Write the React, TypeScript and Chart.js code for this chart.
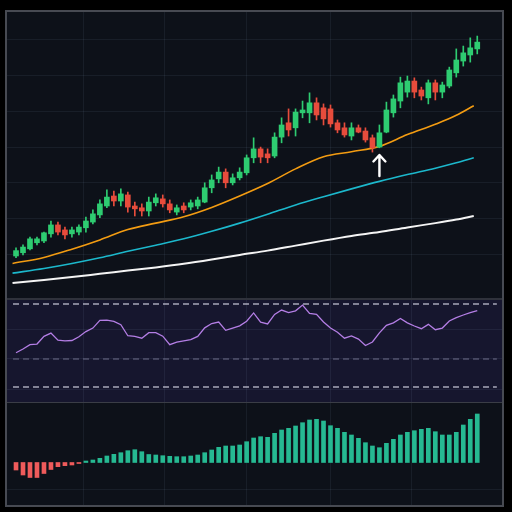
import React, { useEffect, useRef } from "react";
import { Chart, registerables } from "chart.js";

Chart.register(...registerables);

// ---------------- data ----------------
const OPEN = [
  119.5, 120.4, 121.5, 123.2, 123.7, 125.7, 128.2, 126.8, 125.7, 126.2,
  127.4, 129.0, 131.0, 133.5, 136.3, 134.9, 136.6, 133.5, 133.0, 132.1,
  134.4, 135.5, 134.1, 131.8, 133.5, 133.2, 133.5, 134.6, 138.6, 141.1,
  143.0, 140.0, 141.4, 142.8, 147.0, 149.5, 148.1, 147.5, 152.8, 156.8,
  155.4, 159.6, 159.6, 162.4, 161.0, 160.7, 156.8, 155.4, 153.1, 155.4,
  154.5, 152.6, 150.0, 154.2, 159.6, 162.9, 165.4, 168.5, 166.0, 163.8,
  168.0, 165.4, 167.1, 170.8, 174.1, 175.8, 177.5,
];
const HIGH = [
  121.8, 122.6, 124.8, 124.8, 126.2, 129.3, 129.0, 127.6, 127.6, 128.2,
  130.4, 132.4, 135.2, 138.0, 137.7, 138.3, 137.4, 134.6, 134.1, 136.0,
  136.9, 136.6, 135.2, 133.8, 134.4, 135.2, 136.0, 140.0, 142.2, 144.4,
  143.9, 142.5, 144.2, 147.8, 152.6, 150.0, 149.5, 154.0, 158.2, 160.7,
  160.7, 162.9, 165.2, 163.8, 162.1, 161.8, 157.6, 156.8, 156.8, 156.2,
  155.4, 153.4, 156.2, 162.6, 164.6, 169.6, 169.9, 169.4, 166.8, 168.8,
  168.8, 168.2, 172.4, 177.5, 178.3, 180.6, 181.1,
];
const LOW = [
  119.0, 119.8, 121.2, 122.6, 123.2, 124.8, 125.4, 124.3, 124.8, 125.4,
  126.2, 128.5, 130.2, 133.0, 133.5, 133.5, 131.8, 130.7, 130.7, 130.7,
  133.5, 133.2, 131.6, 131.0, 131.6, 132.4, 132.7, 134.4, 137.2, 140.0,
  138.6, 139.4, 140.8, 142.2, 145.6, 145.6, 145.6, 147.0, 151.2, 153.1,
  153.1, 158.2, 156.8, 157.6, 156.2, 155.6, 154.0, 152.8, 152.0, 154.0,
  151.4, 148.6, 149.8, 154.0, 158.4, 161.0, 164.0, 163.8, 163.2, 162.1,
  163.2, 163.8, 166.6, 169.6, 172.7, 173.8, 176.1,
];
const CLOSE = [
  121.0, 122.0, 124.3, 124.3, 126.0, 128.2, 126.2, 125.4, 126.8, 127.6,
  129.3, 131.3, 134.1, 136.0, 134.9, 136.9, 133.2, 132.7, 132.1, 134.6,
  135.8, 134.1, 132.4, 133.0, 132.4, 134.4, 135.2, 138.6, 140.8, 143.0,
  140.0, 141.4, 143.0, 147.0, 149.5, 147.2, 147.0, 152.8, 156.2, 154.8,
  159.8, 160.4, 162.4, 159.0, 157.9, 156.5, 154.8, 153.4, 155.4, 154.2,
  152.0, 149.8, 154.0, 160.4, 163.5, 168.0, 168.5, 165.4, 164.3, 168.0,
  165.4, 167.4, 171.6, 174.4, 176.4, 177.8, 179.4,
];

// moving averages, sampled along the candle index axis
const MA_INDEX = [-0.5, 4, 8, 12, 16, 20, 24, 28, 32, 36, 40, 44, 48, 52, 56, 60, 63, 65.5];
const MA_FAST = [117.4, 119.1, 121.4, 124.0, 126.9, 128.7, 130.5, 133.1, 136.3, 139.8, 143.9, 147.3, 148.7, 150.2, 153.5, 156.4, 158.9, 161.6];
const MA_MID = [114.7, 116.0, 117.4, 119.0, 120.8, 122.5, 124.3, 126.4, 128.7, 131.2, 133.8, 136.1, 138.3, 140.4, 142.3, 144.1, 145.6, 147.0];
const MA_SLOW = [111.9, 112.8, 113.6, 114.5, 115.4, 116.3, 117.3, 118.5, 119.8, 121.0, 122.4, 123.8, 125.1, 126.2, 127.5, 128.7, 129.7, 130.7];

const RSI = [
  46.5, 48.3, 50.4, 50.7, 54.4, 56.0, 52.6, 52.2, 52.4, 54.2,
  56.7, 58.4, 62.1, 62.2, 61.6, 60.0, 54.7, 54.4, 53.5, 56.2,
  56.2, 54.5, 50.4, 51.6, 52.2, 52.8, 54.4, 58.5, 60.6, 61.3,
  57.3, 58.4, 59.5, 61.7, 65.7, 61.3, 60.4, 65.0, 67.1, 65.9,
  66.7, 69.5, 65.5, 65.0, 61.3, 58.4, 56.4, 53.5, 54.6, 53.1,
  50.0, 51.7, 56.1, 59.7, 60.9, 63.0, 60.9, 59.4, 58.1, 60.2,
  57.6, 58.4, 61.8, 63.4, 64.7, 65.8, 66.8,
];
const RSI_UPPER = 70;
const RSI_MID = 43.5;
const RSI_LOWER = 30;

const MACD_HIST = [
  -0.75, -1.25, -1.5, -1.5, -1.1, -0.7, -0.42, -0.32, -0.25, -0.1,
  0.15, 0.25, 0.42, 0.65, 0.82, 0.98, 1.18, 1.28, 1.08, 0.8,
  0.75, 0.68, 0.62, 0.58, 0.58, 0.65, 0.75, 0.98, 1.25, 1.52,
  1.65, 1.65, 1.75, 2.08, 2.45, 2.58, 2.52, 2.92, 3.25, 3.42,
  3.65, 3.98, 4.25, 4.32, 4.15, 3.68, 3.42, 3.02, 2.75, 2.42,
  1.98, 1.65, 1.48, 1.92, 2.32, 2.75, 3.02, 3.18, 3.32, 3.42,
  3.08, 2.75, 2.75, 3.02, 3.75, 4.32, 4.85,
];

// buy signal marker (candle index, arrow tip / tail price)
const SIGNAL_INDEX = 52;
const SIGNAL_TIP = 147.8;
const SIGNAL_TAIL = 141.9;

// grid positions
const GRID_X = [9.59, 21.18, 33.05, 44.93, 56.52];
const PRICE_TICKS = [120, 130, 140, 150, 160, 170, 180];
const RSI_TICKS = [57.95, 43.5, 29.0];
const MACD_TICKS = [-2.65];

// ---------------- layout / style ----------------
const X_MIN = -1.29;
const X_MAX = 69.54;
const LEVEL_X0 = -0.43;
const LEVEL_X1 = 68.8;
const GRID_COLOR = "rgba(150,170,210,0.085)";
const GREEN = "#2ecc71";
const RED = "#e74c3c";

function scales(yMin: number, yMax: number, yTicks: number[]) {
  return {
    x: {
      type: "linear",
      min: X_MIN,
      max: X_MAX,
      offset: false,
      grid: { color: GRID_COLOR, lineWidth: 1, drawTicks: false, offset: false },
      border: { display: false },
      ticks: { display: false },
      afterBuildTicks: (s: any) => {
        s.ticks = GRID_X.map((v) => ({ value: v }));
      },
    },
    y: {
      type: "linear",
      min: yMin,
      max: yMax,
      grid: { color: GRID_COLOR, lineWidth: 1, drawTicks: false },
      border: { display: false },
      ticks: { display: false },
      afterBuildTicks: (s: any) => {
        s.ticks = yTicks.map((v) => ({ value: v }));
      },
    },
  };
}

const common = {
  responsive: false,
  animation: false,
  devicePixelRatio: 1,
  events: [],
  layout: { padding: 0 },
  plugins: { legend: { display: false }, tooltip: { enabled: false } },
};

const signalArrow = {
  id: "signalArrow",
  afterDatasetsDraw(chart: any) {
    const { ctx } = chart;
    const x = chart.scales.x.getPixelForValue(SIGNAL_INDEX);
    const tip = chart.scales.y.getPixelForValue(SIGNAL_TIP);
    const tail = chart.scales.y.getPixelForValue(SIGNAL_TAIL);
    ctx.save();
    ctx.strokeStyle = "#ffffff";
    ctx.lineWidth = 2.4;
    ctx.lineCap = "round";
    ctx.lineJoin = "round";
    ctx.beginPath();
    ctx.moveTo(x, tail);
    ctx.lineTo(x, tip + 1);
    ctx.moveTo(x - 6, tip + 6.5);
    ctx.lineTo(x, tip);
    ctx.lineTo(x + 6, tip + 6.5);
    ctx.stroke();
    ctx.restore();
  },
};

function mainConfig(): any {
  const colors = CLOSE.map((c, i) => (c >= OPEN[i] ? GREEN : RED));
  const line = (vals: number[], color: string, width: number) => ({
    type: "line",
    data: MA_INDEX.map((x, i) => ({ x, y: vals[i] })),
    borderColor: color,
    borderWidth: width,
    pointRadius: 0,
    cubicInterpolationMode: "monotone",
    fill: false,
  });
  return {
    type: "bar",
    data: {
      datasets: [
        {
          type: "bar",
          data: OPEN.map((o, i) => ({ x: i, y: [o, CLOSE[i]] })),
          backgroundColor: colors,
          barThickness: 5,
          grouped: false,
          borderWidth: 0,
          minBarLength: 1,
        },
        {
          type: "bar",
          data: LOW.map((l, i) => ({ x: i, y: [l, HIGH[i]] })),
          backgroundColor: colors,
          barThickness: 1,
          grouped: false,
          borderWidth: 0,
        },
        line(MA_FAST, "#f39c12", 1.6),
        line(MA_MID, "#1cb8cc", 1.6),
        line(MA_SLOW, "#f4f4f4", 2),
      ],
    },
    options: { ...common, scales: scales(107.73, 187.84, PRICE_TICKS) },
    plugins: [signalArrow],
  };
}

function rsiConfig(): any {
  const level = (v: number, color: string) => ({
    data: [
      { x: LEVEL_X0, y: v },
      { x: LEVEL_X1, y: v },
    ],
    borderColor: color,
    borderWidth: 1.5,
    borderDash: [6, 4],
    pointRadius: 0,
  });
  return {
    type: "line",
    data: {
      datasets: [
        {
          data: RSI.map((v, i) => ({ x: i, y: v })),
          borderColor: "#b47ee5",
          borderWidth: 1.3,
          pointRadius: 0,
          tension: 0,
        },
        level(RSI_UPPER, "rgba(205,205,220,0.8)"),
        level(RSI_MID, "rgba(130,130,155,0.55)"),
        level(RSI_LOWER, "rgba(205,205,220,0.8)"),
      ],
    },
    options: { ...common, scales: scales(22.77, 71.93, RSI_TICKS) },
  };
}

function macdConfig(): any {
  return {
    type: "bar",
    data: {
      datasets: [
        {
          data: MACD_HIST.map((v, i) => ({ x: i, y: v })),
          backgroundColor: MACD_HIST.map((v) => (v >= 0 ? "#26b992" : "#ef5b5b")),
          barThickness: 4,
          grouped: false,
          borderWidth: 0,
        },
      ],
    },
    options: { ...common, scales: scales(-4.25, 5.95, MACD_TICKS) },
  };
}

function Panel({ top, height, bg, build }: { top: number; height: number; bg: string; build: () => any }) {
  const ref = useRef<HTMLCanvasElement>(null);
  useEffect(() => {
    const chart = new Chart(ref.current as HTMLCanvasElement, build());
    return () => chart.destroy();
  }, []);
  return (
    <div style={{ position: "absolute", left: 7, top, width: 495, height, background: bg }}>
      <canvas ref={ref} width={495} height={height} style={{ display: "block", width: 495, height }} />
    </div>
  );
}

export default function App() {
  return (
    <div style={{ position: "fixed", left: 0, top: 0, width: 512, height: 512, background: "#000", overflow: "hidden" }}>
      <div
        style={{
          position: "absolute",
          left: 5,
          top: 10,
          width: 499,
          height: 497,
          boxSizing: "border-box",
          border: "2px solid #474a52",
          background: "#0d1119",
        }}
      />
      <Panel top={12} height={286} bg="#0d1119" build={mainConfig} />
      <div style={{ position: "absolute", left: 7, top: 298, width: 495, height: 2, background: "#2f323b" }} />
      <Panel top={300} height={102} bg="#16162e" build={rsiConfig} />
      <div style={{ position: "absolute", left: 7, top: 402, width: 495, height: 1, background: "#3a3d46" }} />
      <Panel top={403} height={102} bg="#0d1119" build={macdConfig} />
    </div>
  );
}
